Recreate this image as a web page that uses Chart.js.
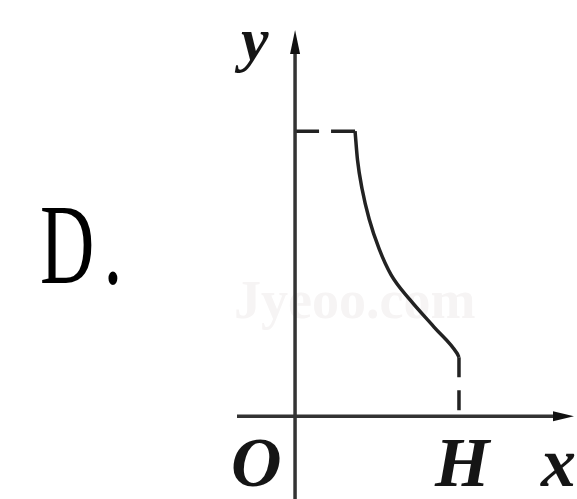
<!DOCTYPE html>
<html>
<head>
<meta charset="utf-8">
<script src="https://cdn.jsdelivr.net/npm/chart.js@4/dist/chart.umd.min.js"></script>
<style>
  html, body { margin: 0; padding: 0; background: #fff; }
  #wrap { width: 577px; height: 499px; }
</style>
</head>
<body>
<div id="wrap"><canvas id="graph"></canvas></div>
<script>
// 曲線的取樣點 (x 從轉角到 H)
var curveX = [3.66, 3.81, 4.09, 4.52, 5.13, 5.86, 7.02, 8.48, 9.88, 10];
var curveY = [10, 8.99, 7.97, 6.92, 5.87, 4.96, 4.08, 3.13, 2.21, 2.07];
// 上方虛線的高度、H 的位置
var topLevel = 10;
var hValue = 10;
// 座標軸上的文字
var axisNames = ['x', 'y'];
var pointNames = ['O', 'H'];
var optionLetter = 'D.';
var watermark = 'Jyeoo.com';

function pts(xs, ys) {
  return xs.map(function(v, i) { return { x: v, y: ys[i] }; });
}

var ink = '#222';

// 自己畫座標軸、箭頭和文字
var axesPlugin = {
  id: 'axesPlugin',
  beforeDatasetsDraw: function(chart) {
    // 淡淡的浮水印
    var ctx = chart.ctx;
    ctx.save();
    ctx.fillStyle = '#f6f4f4';
    ctx.font = 'bold 54px "Liberation Serif"';
    ctx.fillText(watermark, 234, 318);
    ctx.restore();
  },
  afterDraw: function(chart) {
    var ctx = chart.ctx;
    var sx = chart.scales.x, sy = chart.scales.y;
    var ox = sx.getPixelForValue(0), oy = sy.getPixelForValue(0);
    var W = chart.width, Ht = chart.height;

    ctx.save();
    ctx.textBaseline = 'alphabetic';
    ctx.textAlign = 'left';

    ctx.strokeStyle = '#333';
    ctx.fillStyle = '#111';
    ctx.lineWidth = 3.5;
    // x 軸
    ctx.beginPath();
    ctx.moveTo(237, oy);
    ctx.lineTo(W - 18, oy);
    ctx.stroke();
    ctx.beginPath();
    ctx.moveTo(W - 3, oy);
    ctx.lineTo(W - 24, oy - 5);
    ctx.lineTo(W - 24, oy + 5);
    ctx.closePath();
    ctx.fill();
    // y 軸
    ctx.beginPath();
    ctx.moveTo(ox, Ht);
    ctx.lineTo(ox, 48);
    ctx.stroke();
    ctx.beginPath();
    ctx.moveTo(ox, 30);
    ctx.lineTo(ox - 5, 54);
    ctx.lineTo(ox + 5, 54);
    ctx.closePath();
    ctx.fill();

    // 文字
    ctx.fillStyle = '#151515';
    ctx.font = 'italic bold 62px "Liberation Serif"';
    ctx.fillText(axisNames[1], ox - 54, 60);
    ctx.font = 'italic bold 70px "Liberation Serif"';
    ctx.fillText(pointNames[0], ox - 64, oy + 70);
    ctx.fillText(pointNames[1], sx.getPixelForValue(hValue) - 24, oy + 70);
    ctx.fillText(axisNames[0], W - 36, oy + 70);

    // 選項字母，字形壓窄
    ctx.save();
    ctx.translate(40, 283);
    ctx.scale(0.66, 1);
    ctx.font = '114px "Liberation Serif"';
    ctx.letterSpacing = '14px';
    ctx.fillStyle = '#000';
    ctx.fillText(optionLetter, 0, 0);
    ctx.restore();
    ctx.restore();
  }
};

var ctx = document.getElementById('graph').getContext('2d');
var chart = new Chart(ctx, {
  type: 'scatter',
  data: {
    datasets: [{
      data: pts(curveX, curveY),
      showLine: true,
      borderColor: ink,
      borderWidth: 3.5,
      cubicInterpolationMode: 'monotone',
      pointRadius: 0,
      borderJoinStyle: 'round'
    }, {
      data: [{ x: 0, y: topLevel }, { x: curveX[0], y: topLevel }],
      showLine: true,
      borderColor: ink,
      borderWidth: 3.5,
      borderDash: [24, 12],
      pointRadius: 0
    }, {
      data: [{ x: hValue, y: curveY[curveY.length - 1] }, { x: hValue, y: 0 }],
      showLine: true,
      borderColor: ink,
      borderWidth: 3.5,
      borderDash: [20, 13],
      pointRadius: 0
    }]
  },
  options: {
    responsive: true,
    maintainAspectRatio: false,
    animation: false,
    layout: { padding: 0 },
    plugins: {
      legend: { display: false },
      tooltip: { enabled: false }
    },
    scales: {
      x: { type: 'linear', min: -18, max: 17.2, display: false },
      y: { type: 'linear', min: -2.9, max: 14.6, display: false }
    }
  },
  plugins: [axesPlugin]
});
</script>
</body>
</html>
